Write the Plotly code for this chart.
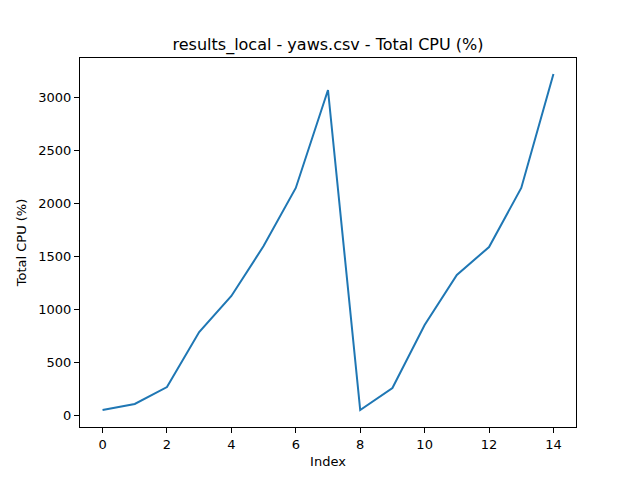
import plotly.graph_objects as go

# Values
index = list(range(15))
total_cpu = [47, 104, 264, 783, 1123, 1594, 2142, 3066, 47, 255, 849, 1321, 1585, 2142, 3217]

fig = go.Figure(go.Scatter(
    x=index, y=total_cpu, mode="lines",
    line=dict(color="#1f77b4", width=2),
))

axis_style = dict(
    showgrid=False, zeroline=False, showline=True, linecolor="black", linewidth=1,
    mirror=True, ticks="outside", ticklen=5, tickcolor="black",
    tickfont=dict(size=13, color="black"),
)

# page adds ~8px offset, so margins are shifted to compensate
fig.update_layout(
    width=640, height=480,
    margin=dict(l=72, r=72, t=50, b=61),
    paper_bgcolor="white", plot_bgcolor="white",
    font=dict(family="DejaVu Sans", color="black"),
    title=dict(text="results_local - yaws.csv - Total CPU (%)", x=0.5, xanchor="center",
               y=0.925, yanchor="middle", font=dict(size=16)),
    showlegend=False,
)
fig.update_xaxes(axis_style, range=[-0.7, 14.7], dtick=2,
                 title=dict(text="Index", font=dict(size=13), standoff=6))
fig.update_yaxes(axis_style, range=[-113, 3368], dtick=500,
                 title=dict(text="Total CPU (%)", font=dict(size=13), standoff=8))

fig.write_html("out.html")
